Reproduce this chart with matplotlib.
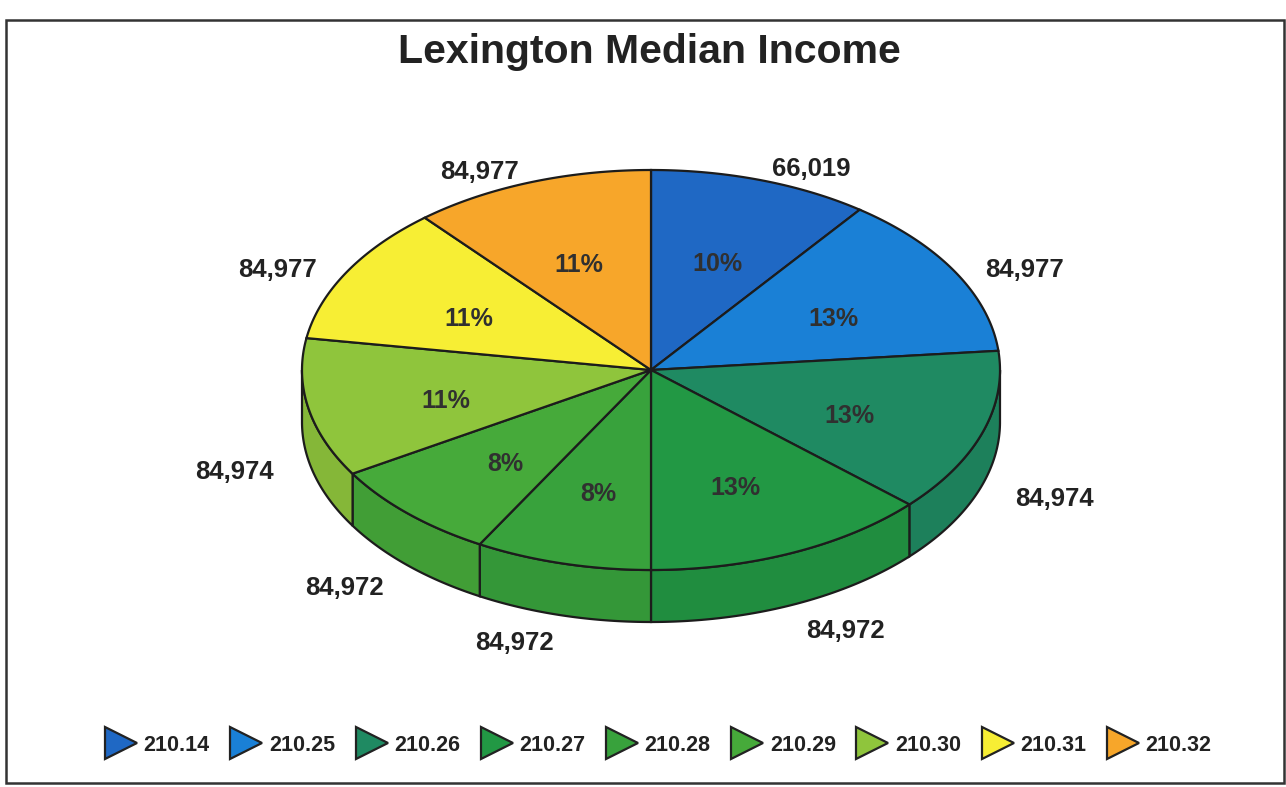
import numpy as np
import matplotlib
matplotlib.use("Agg")
import matplotlib.pyplot as plt
from matplotlib.patches import Polygon, Rectangle
from matplotlib.lines import Line2D
import matplotlib.colors as mcolors

plt.rcParams['font.family'] = ['Liberation Sans', 'DejaVu Sans']

# data, clockwise from 12 o'clock
tracts = ["210.14", "210.25", "210.26", "210.27", "210.28",
          "210.29", "210.30", "210.31", "210.32"]
incomes = ["66,019", "84,977", "84,974", "84,972", "84,972",
           "84,972", "84,974", "84,977", "84,977"]
pcts = [10, 13, 13, 13, 8, 8, 11, 11, 11]
colors = ["#1f68c4", "#1a80d6", "#1f8a62", "#229844", "#38a23c",
          "#46aa3a", "#8fc53c", "#f7ee34", "#f7a62a"]

# layout of the pie (pixel space)
cx, cy = 651, 370
rx, ry = 349, 200
depth = 52
edge = "#1c1c1c"


def pt(t, dz=0):
    return cx + rx * np.cos(t), cy - ry * np.sin(t) + dz


fig = plt.figure(figsize=(12.86, 7.87), dpi=100)
ax = fig.add_axes([0, 0, 1, 1])
ax.set_xlim(0, 1286)
ax.set_ylim(787, 0)
ax.axis('off')

fracs = np.array(pcts, dtype=float) / sum(pcts)
bounds = np.pi / 2 - np.concatenate([[0], np.cumsum(fracs)]) * 2 * np.pi

# side walls (front half: angles between -pi and 0)
for i in range(len(pcts)):
    a, b = bounds[i + 1], bounds[i]
    lo, hi = max(a, -np.pi), min(b, 0)
    if lo >= hi:
        continue
    t = np.linspace(hi, lo, 80)
    x, y = pt(t)
    xs = np.concatenate([x, x[::-1]])
    ys = np.concatenate([y, y[::-1] + depth])
    side = np.array(mcolors.to_rgb(colors[i])) * 0.93
    ax.add_patch(Polygon(np.column_stack([xs, ys]), closed=True,
                         facecolor=side, edgecolor=edge, lw=1.6, zorder=2))

# top faces
for i in range(len(pcts)):
    t = np.linspace(bounds[i], bounds[i + 1], 100)
    x, y = pt(t)
    xs = np.concatenate([[cx], x])
    ys = np.concatenate([[cy], y])
    ax.add_patch(Polygon(np.column_stack([xs, ys]), closed=True,
                         facecolor=colors[i], edgecolor=edge, lw=1.6, zorder=3))

# labels
for i in range(len(pcts)):
    mid = (bounds[i] + bounds[i + 1]) / 2
    c, s = np.cos(mid), np.sin(mid)
    lx = cx + 1.1 * rx * c
    ly = cy - 1.1 * ry * s + (depth if s < 0 else 0) + 8
    ax.text(lx, ly, incomes[i], ha='left' if c > 0 else 'right', va='center',
            fontsize=18.5, fontweight='bold', color='#222222', zorder=5)
    px = cx + 0.6 * rx * c
    py = cy - 0.6 * ry * s + 8
    ax.text(px, py, f"{pcts[i]}%", ha='center', va='center',
            fontsize=18, fontweight='bold', color='#303030', zorder=5)

ax.text(649, 52, "Lexington Median Income", ha='center', va='center',
        fontsize=29.5, fontweight='bold', color='#222222')

# outer frame
ax.add_patch(Rectangle((6, 20), 1278, 763, fill=False, edgecolor='#333333',
                       lw=1.8, zorder=1))

handles = [Line2D([], [], linestyle='none', marker='>', markersize=23,
                  markerfacecolor=c, markeredgecolor='#222222',
                  markeredgewidth=1.6) for c in colors]
fig.legend(handles, tracts, loc='center', bbox_to_anchor=(0.513, 0.053),
           ncol=len(tracts), frameon=False, handlelength=1.2,
           handletextpad=0.45, columnspacing=1.1,
           prop={'size': 15.5, 'weight': 'bold'}, labelcolor='#222222')

fig.savefig("out.png", dpi=100)
